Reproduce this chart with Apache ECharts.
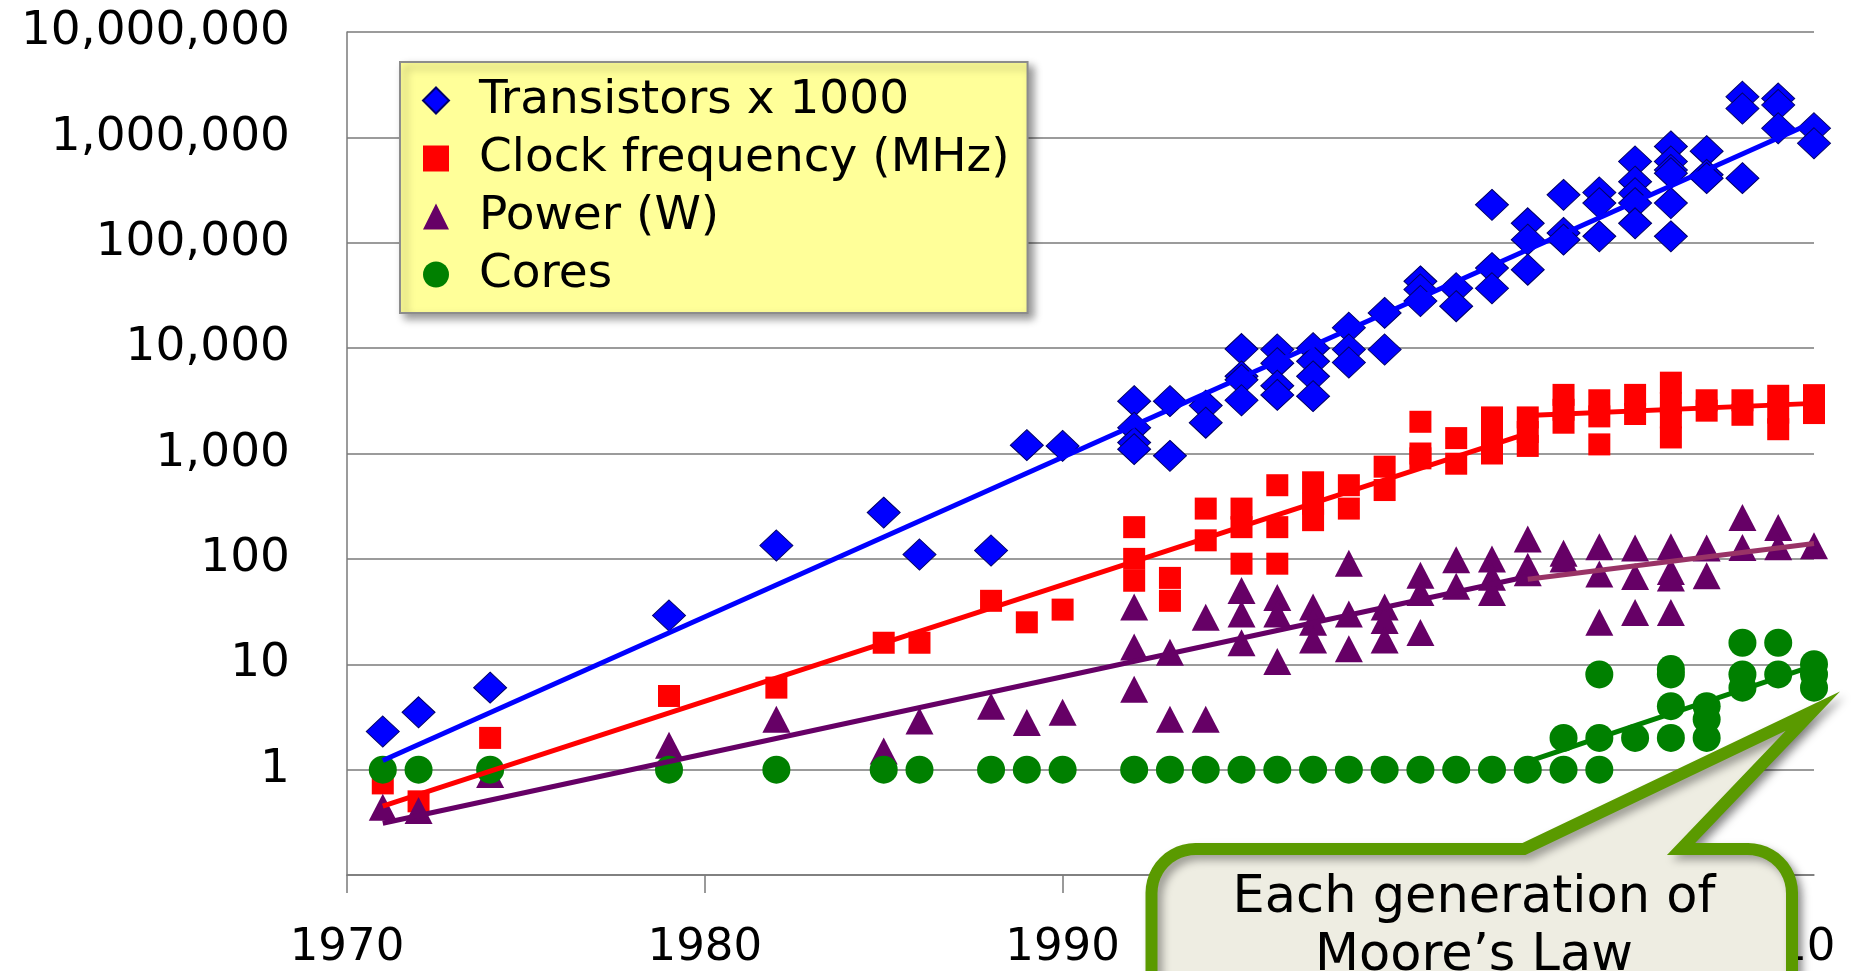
<!DOCTYPE html>
<html>
<head>
<meta charset="utf-8">
<script src="https://cdn.jsdelivr.net/npm/echarts@6/dist/echarts.min.js"></script>
<style>
    html, body { margin: 0; padding: 0; background: #fff; }
    #chart { width: 1857px; height: 971px; }
</style>
</head>
<body>
<div id="chart"></div>
<script>
var FONT = 'DejaVu Sans';

// [year, value] pairs, values on a log scale
var transistors = [
    [1971, 2.3], [1972, 3.5], [1974, 6], [1979, 29], [1982, 134],
    [1985, 275], [1986, 110], [1988, 120], [1989, 1200], [1990, 1180],
    [1992, 3140], [1992, 1760], [1992, 1270], [1992, 1100],
    [1993, 3140], [1993, 950],
    [1994, 2850], [1994, 1960],
    [1995, 9800], [1995, 5400], [1995, 5000], [1995, 3200],
    [1996, 9700], [1996, 7200], [1996, 4400], [1996, 3600],
    [1997, 10000], [1997, 7500], [1997, 5400], [1997, 3500],
    [1998, 15600], [1998, 9700], [1998, 7300],
    [1999, 21600], [1999, 9700],
    [2000, 43000], [2000, 36000], [2000, 28000],
    [2001, 37000], [2001, 25000],
    [2002, 229000], [2002, 57500], [2002, 37000],
    [2003, 153000], [2003, 107000], [2003, 55500],
    [2004, 285000], [2004, 124000], [2004, 107000],
    [2005, 300000], [2005, 238000], [2005, 115000],
    [2006, 590000], [2006, 380000], [2006, 295000], [2006, 238000], [2006, 153000],
    [2007, 820000], [2007, 590000], [2007, 490000], [2007, 457000], [2007, 238000], [2007, 115000],
    [2008, 740000], [2008, 441000], [2008, 410000],
    [2009, 2430000], [2009, 1880000], [2009, 410000],
    [2010, 2340000], [2010, 2030000], [2010, 1220000],
    [2011, 1220000], [2011, 880000]
];

var clock = [
    [1971, 0.74], [1972, 0.5], [1974, 2], [1979, 5], [1982, 6],
    [1985, 16], [1986, 16], [1988, 40], [1989, 25], [1990, 33],
    [1992, 200], [1992, 100], [1992, 62],
    [1993, 66], [1993, 40],
    [1994, 300], [1994, 150],
    [1995, 300], [1995, 200], [1995, 90],
    [1996, 500], [1996, 200], [1996, 90],
    [1997, 533], [1997, 333], [1997, 233],
    [1998, 500], [1998, 300],
    [1999, 750], [1999, 450],
    [2000, 2000], [2000, 1000], [2000, 900],
    [2001, 1400], [2001, 800],
    [2002, 2200], [2002, 1400], [2002, 1000],
    [2003, 2200], [2003, 1600], [2003, 1180],
    [2004, 3600], [2004, 2600], [2004, 1960],
    [2005, 3200], [2005, 2250], [2005, 1220],
    [2006, 3600], [2006, 2370],
    [2007, 4700], [2007, 3000], [2007, 2200], [2007, 1420],
    [2008, 3200], [2008, 2550],
    [2009, 3200], [2009, 2330],
    [2010, 3530], [2010, 2440], [2010, 1700],
    [2011, 3580], [2011, 2420]
];

var power = [
    [1971, 0.44], [1972, 0.41], [1974, 0.9], [1979, 1.7], [1982, 3],
    [1985, 1.5], [1986, 2.9], [1988, 4], [1989, 2.8], [1990, 3.5],
    [1992, 35], [1992, 14.6], [1992, 5.8],
    [1993, 13], [1993, 3],
    [1994, 28], [1994, 3],
    [1995, 50], [1995, 30], [1995, 16],
    [1996, 43], [1996, 30], [1996, 10.6],
    [1997, 35], [1997, 25], [1997, 17],
    [1998, 91], [1998, 30], [1998, 14],
    [1999, 35], [1999, 26], [1999, 17],
    [2000, 70], [2000, 48], [2000, 20],
    [2001, 98], [2001, 55],
    [2002, 100], [2002, 67], [2002, 48],
    [2003, 154], [2003, 85], [2003, 74],
    [2004, 113], [2004, 100],
    [2005, 130], [2005, 72], [2005, 25],
    [2006, 127], [2006, 68], [2006, 31],
    [2007, 130], [2007, 76], [2007, 66], [2007, 31],
    [2008, 127], [2008, 69],
    [2009, 247], [2009, 128],
    [2010, 199], [2010, 130],
    [2011, 133]
];

var cores = [
    [1971, 1], [1972, 1], [1974, 1], [1979, 1], [1982, 1],
    [1985, 1], [1986, 1], [1988, 1], [1989, 1], [1990, 1],
    [1992, 1], [1993, 1], [1994, 1], [1995, 1], [1996, 1], [1997, 1],
    [1998, 1], [1999, 1], [2000, 1], [2001, 1], [2002, 1], [2003, 1],
    [2004, 2], [2004, 1],
    [2005, 8], [2005, 2], [2005, 1],
    [2006, 2],
    [2007, 9], [2007, 8], [2007, 4], [2007, 2],
    [2008, 4], [2008, 3], [2008, 2],
    [2009, 16], [2009, 8], [2009, 6],
    [2010, 16], [2010, 8],
    [2011, 10], [2011, 8], [2011, 6]
];

// trend lines (end points)
var transistorTrend = [[1971, 1.22], [2011, 1400000]];
var clockTrend = [[1971, 0.45], [2003, 1550]];
var clockTrendLate = [[2003, 2300], [2011, 2990]];
var powerTrend = [[1971, 0.31], [2003, 68]];
var powerTrendLate = [[2003, 64], [2011, 140]];
var coresTrend = [[2003, 1.19], [2011, 9.7]];

var yearTicks = [1970, 1980, 1990, 2000, 2010];
var seriesNames = ['Transistors x 1000', 'Clock frequency (MHz)', 'Power (W)', 'Cores'];
var calloutLines = ['Each generation of', 'Moore\u2019s Law'];

var myChart = echarts.init(document.getElementById('chart'));

function trend(name, data, color) {
    return {
        name: name,
        type: 'line',
        data: data,
        symbol: 'none',
        silent: true,
        z: 5,
        lineStyle: { color: color, width: 5 }
    };
}

// callout outline: rounded box with a pointer
function calloutPoints() {
    var L = 1151.5, T = 849, R = 1792, B = 1020, r = 44;
    var pts = [[L, B], [L, T + r]];
    var i, a;
    for (i = 1; i < 12; i++) {
        a = Math.PI + i / 12 * Math.PI / 2;
        pts.push([L + r + r * Math.cos(a), T + r + r * Math.sin(a)]);
    }
    pts.push([L + r, T], [1524, T], [1813, 711], [1681, T], [R - r, T]);
    for (i = 1; i < 12; i++) {
        a = 1.5 * Math.PI + i / 12 * Math.PI / 2;
        pts.push([R - r + r * Math.cos(a), T + r + r * Math.sin(a)]);
    }
    pts.push([R, T + r], [R, B]);
    return pts;
}

var gridColor = '#7a7a7a';

var option = {
    animation: false,
    backgroundColor: '#ffffff',
    grid: { left: 347, right: 43, top: 32, bottom: 94 },
    legend: {
        data: [
            { name: seriesNames[0], icon: 'diamond' },
            { name: seriesNames[1], icon: 'rect' },
            { name: seriesNames[2], icon: 'triangle' },
            { name: seriesNames[3], icon: 'circle' }
        ],
        orient: 'vertical',
        left: 400,
        top: 62,
        padding: [15, 18, 15, 22],
        itemGap: 11,
        itemWidth: 26,
        itemHeight: 26,
        selectedMode: false,
        backgroundColor: '#FFFF99',
        borderColor: '#8c8c8c',
        borderWidth: 2,
        borderRadius: 0,
        shadowBlur: 8,
        shadowOffsetX: 5,
        shadowOffsetY: 5,
        shadowColor: 'rgba(0,0,0,0.4)',
        textStyle: {
            fontFamily: FONT,
            fontSize: 47,
            lineHeight: 46,
            color: '#000',
            padding: [0, 0, 0, 25]
        }
    },
    xAxis: {
        type: 'value',
        min: 1970,
        max: 2011,
        interval: 10,
        axisLine: { onZero: false, lineStyle: { color: gridColor, width: 1.5 } },
        axisTick: { show: true, length: 18, customValues: yearTicks, lineStyle: { color: gridColor, width: 1.5 } },
        axisLabel: {
            customValues: yearTicks,
            fontFamily: FONT,
            fontSize: 45,
            color: '#000',
            margin: 51,
            formatter: function (v) { return String(v); }
        },
        splitLine: { show: false }
    },
    yAxis: {
        type: 'log',
        logBase: 10,
        min: 0.1,
        max: 10000000,
        splitNumber: 8,
        axisLine: { show: true, onZero: false, lineStyle: { color: gridColor, width: 1.5 } },
        axisTick: { show: false },
        axisLabel: {
            fontFamily: FONT,
            fontSize: 47,
            color: '#000',
            margin: 57,
            formatter: function (v) {
                if (v < 0.99) return '';
                return Math.round(v).toLocaleString('en-US');
            }
        },
        splitLine: { show: true, lineStyle: { color: gridColor, width: 1.5 } }
    },
    series: [
        {
            name: seriesNames[0],
            type: 'scatter',
            data: transistors,
            symbol: 'diamond',
            symbolSize: [33, 31],
            itemStyle: { color: '#0000FF', borderColor: '#000066', borderWidth: 1, opacity: 1 },
            z: 2
        },
        {
            name: seriesNames[1],
            type: 'scatter',
            data: clock,
            symbol: 'rect',
            symbolSize: 22,
            itemStyle: { color: '#FF0000', opacity: 1 },
            z: 2
        },
        {
            name: seriesNames[2],
            type: 'scatter',
            data: power,
            symbol: 'triangle',
            symbolSize: [28, 27],
            itemStyle: { color: '#660066', opacity: 1 },
            z: 2
        },
        {
            name: seriesNames[3],
            type: 'scatter',
            data: cores,
            symbol: 'circle',
            symbolSize: 28,
            itemStyle: { color: '#008000', opacity: 1 },
            z: 2
        },
        trend('Transistor trend', transistorTrend, '#0000FF'),
        trend('Clock trend', clockTrend, '#FF0000'),
        trend('Clock trend late', clockTrendLate, '#FF0000'),
        trend('Power trend', powerTrend, '#660066'),
        trend('Power trend late', powerTrendLate, '#993366'),
        trend('Cores trend', coresTrend, '#008000')
    ],
    graphic: [
        {
            type: 'polygon',
            z: 100,
            shape: { points: calloutPoints() },
            style: {
                fill: '#EEEDE2',
                stroke: '#5A9A00',
                lineWidth: 12,
                lineJoin: 'miter',
                miterLimit: 10,
                shadowBlur: 8,
                shadowOffsetX: 5,
                shadowOffsetY: 5,
                shadowColor: 'rgba(0,0,0,0.35)'
            }
        },
        {
            type: 'text',
            z: 101,
            x: 1474,
            y: 899,
            style: {
                text: calloutLines[0],
                fontFamily: FONT,
                fontSize: 51,
                fill: '#000',
                align: 'center',
                verticalAlign: 'middle'
            }
        },
        {
            type: 'text',
            z: 101,
            x: 1474,
            y: 957,
            style: {
                text: calloutLines[1],
                fontFamily: FONT,
                fontSize: 51,
                fill: '#000',
                align: 'center',
                verticalAlign: 'middle'
            }
        }
    ]
};

myChart.setOption(option);
</script>
</body>
</html>
